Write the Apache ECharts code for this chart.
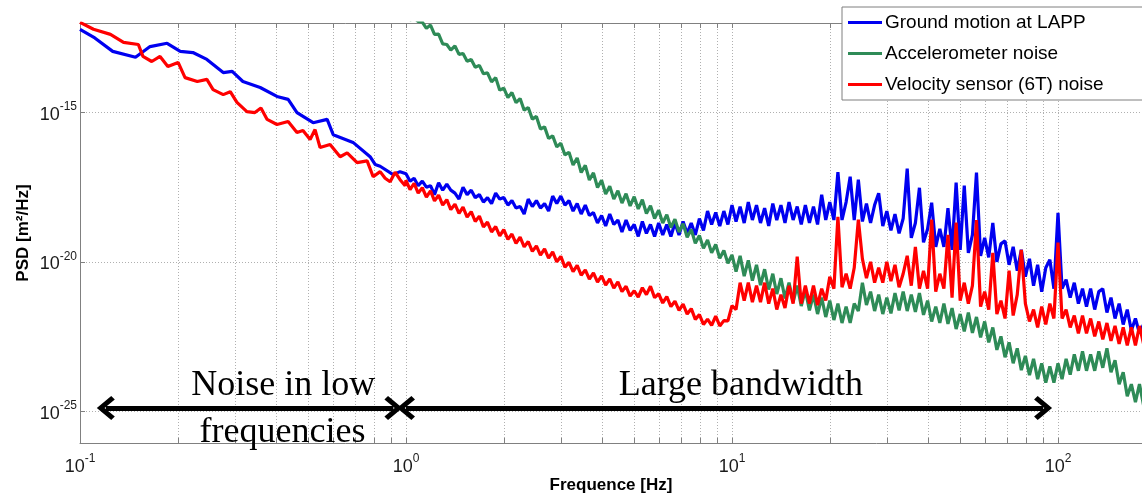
<!DOCTYPE html>
<html>
<head>
<meta charset="utf-8">
<script src="https://cdn.jsdelivr.net/npm/echarts@6/dist/echarts.min.js"></script>
<style>
  html, body { margin: 0; padding: 0; background: #fff; }
  #chart { width: 1142px; height: 495px; }
</style>
</head>
<body>
<div id="chart"></div>
<script>
// PSD, stored as log10 of m^2/Hz

// below 1 Hz
const groundLowFreq = [0.1, 0.111, 0.126, 0.148, 0.164, 0.185, 0.203, 0.222, 0.245, 0.275, 0.293, 0.316, 0.357, 0.402, 0.435, 0.463, 0.519, 0.573, 0.598, 0.688, 0.776, 0.804, 0.833, 0.913, 0.959];
const groundLowLog = [-12.21, -12.5, -12.95, -13.15, -12.79, -12.68, -12.95, -12.99, -13.22, -13.66, -13.62, -13.96, -14.16, -14.46, -14.56, -15.0, -15.34, -15.23, -15.74, -16.0, -16.48, -16.74, -16.8, -17.08, -16.98];

const velocityLowFreq = [0.1, 0.11, 0.124, 0.136, 0.151, 0.156, 0.166, 0.176, 0.186, 0.2,
  0.21, 0.229, 0.245, 0.256, 0.275, 0.289, 0.303, 0.325, 0.344, 0.359,
  0.375, 0.402, 0.435, 0.463, 0.483, 0.508, 0.526, 0.545, 0.585, 0.628,
  0.66, 0.708, 0.76, 0.793, 0.833, 0.863, 0.894, 0.926, 0.959, 0.994];
const velocityLowLog = [-11.98, -12.21, -12.38, -12.65, -12.72, -13.12, -13.29, -13.12, -13.46, -13.32,
  -13.83, -13.96, -13.89, -14.23, -14.4, -14.3, -14.66, -14.97, -15.0, -14.85,
  -15.23, -15.4, -15.3, -15.67, -15.6, -15.9, -15.57, -16.17, -16.07, -16.48,
  -16.35, -16.68, -16.62, -17.15, -16.98, -17.2, -17.32, -17.0, -17.25, -17.45];

// 1 Hz and above (noisy part, shared frequency grid)
const bandFreq = [1, 1.029, 1.059, 1.09, 1.122, 1.155, 1.189, 1.223, 1.259, 1.296, 1.334, 1.372, 1.413, 1.454, 1.496, 1.54, 1.585, 1.631, 1.679, 1.728,
  1.778, 1.83, 1.884, 1.939, 1.995, 2.054, 2.113, 2.175, 2.239, 2.304, 2.371, 2.441, 2.512, 2.585, 2.661, 2.738, 2.818, 2.901, 2.985, 3.073,
  3.162, 3.255, 3.35, 3.447, 3.548, 3.652, 3.758, 3.868, 3.981, 4.097, 4.217, 4.34, 4.467, 4.597, 4.732, 4.87, 5.012, 5.158, 5.309, 5.464,
  5.623, 5.788, 5.957, 6.131, 6.31, 6.494, 6.683, 6.879, 7.079, 7.286, 7.499, 7.718, 7.943, 8.175, 8.414, 8.66, 8.913, 9.173, 9.441, 9.716,
  10, 10.29, 10.59, 10.9, 11.22, 11.55, 11.89, 12.23, 12.59, 12.96, 13.34, 13.72, 14.13, 14.54, 14.96, 15.4, 15.85, 16.31, 16.79, 17.28,
  17.78, 18.3, 18.84, 19.39, 19.95, 20.54, 21.13, 21.75, 22.39, 23.04, 23.71, 24.41, 25.12, 25.85, 26.61, 27.38, 28.18, 29.01, 29.85, 30.73,
  31.62, 32.55, 33.5, 34.47, 35.48, 36.52, 37.58, 38.68, 39.81, 40.97, 42.17, 43.4, 44.67, 45.97, 47.32, 48.7, 50.12, 51.58, 53.09, 54.64,
  56.23, 57.88, 59.57, 61.31, 63.1, 64.94, 66.83, 68.79, 70.79, 72.86, 74.99, 77.18, 79.43, 81.75, 84.14, 86.6, 89.13, 91.73, 94.41, 97.16,
  100, 102.9, 105.9, 109, 112.2, 115.5, 118.9, 122.3, 125.9, 129.6, 133.4, 137.2, 141.3, 145.4, 149.6, 154, 158.5, 163.1, 167.9, 172.8,
  177.8, 183];

const groundBandLog = [-17.05, -17.3, -17.2, -17.45, -17.3, -17.5, -17.45, -17.75, -17.35, -17.6,
  -17.4, -17.6, -17.7, -17.9, -17.5, -17.75, -17.6, -17.85, -17.75, -18.0,
  -17.85, -18.05, -17.7, -17.9, -17.85, -18.1, -17.95, -18.2, -18.15, -18.4,
  -17.9, -18.15, -17.95, -18.2, -18.05, -18.3, -17.8, -18.05, -17.8, -18.1,
  -17.95, -18.3, -18.05, -18.4, -18.1, -18.45, -18.35, -18.7, -18.45, -18.8,
  -18.4, -18.75, -18.6, -19.0, -18.6, -18.95, -18.75, -19.15, -18.65, -19.05,
  -18.75, -19.15, -18.7, -19.1, -18.75, -19.15, -18.7, -19.1, -18.65, -19.05,
  -18.7, -19.1, -18.55, -18.95, -18.3, -18.75, -18.35, -18.8, -18.3, -18.75,
  -18.1, -18.65, -18.15, -18.7, -18.0, -18.6, -18.1, -18.7, -18.2, -18.8,
  -18.05, -18.6, -18.1, -18.7, -18.0, -18.6, -18.15, -18.75, -18.1, -18.7,
  -18.15, -18.75, -17.75, -18.6, -18.0, -18.6, -17.0, -18.6, -18.0, -17.15,
  -18.6, -17.25, -18.65, -18.05, -18.7, -18.1, -17.7, -18.8, -18.3, -18.95,
  -18.4, -19.05, -18.55, -16.88, -19.2, -18.7, -17.52, -19.35, -18.9, -18.02,
  -19.5, -18.9, -19.5, -18.2, -19.6, -17.35, -19.6, -17.45, -19.7, -19.1,
  -17.01, -19.8, -19.2, -19.85, -18.7, -20.0, -19.4, -19.3, -20.1, -19.5,
  -20.3, -19.6, -20.5, -19.9, -20.8, -20.1, -21.0, -20.2, -19.93, -20.9,
  -18.36, -20.9, -20.6, -21.2, -20.7, -21.4, -20.9, -21.5, -20.9, -21.6,
  -21.0, -20.9, -21.7, -21.2, -21.9, -21.4, -22.1, -21.6, -22.3, -21.9,
  -22.4, -22.1];

const accelBandLog = [-11.67, -11.9, -11.82, -11.95, -11.97, -12.18, -12.07, -12.38, -12.37, -12.7,
  -12.72, -12.91, -12.77, -13.05, -13.02, -13.28, -13.22, -13.48, -13.42, -13.7,
  -13.67, -13.97, -13.83, -14.25, -14.18, -14.5, -14.33, -14.67, -14.53, -14.92,
  -14.83, -15.22, -15.13, -15.55, -15.48, -15.87, -15.78, -16.15, -16.03, -16.42,
  -16.33, -16.76, -16.52, -17.01, -16.77, -17.26, -17.02, -17.51, -17.27, -17.73,
  -17.47, -17.9, -17.62, -18.03, -17.72, -18.13, -17.82, -18.23, -17.92, -18.38,
  -18.12, -18.55, -18.27, -18.7, -18.42, -18.85, -18.57, -19.0, -18.72, -19.18,
  -18.92, -19.38, -19.12, -19.55, -19.27, -19.7, -19.42, -19.88, -19.62, -20.05,
  -19.77, -20.33, -19.8, -20.48, -19.95, -20.63, -20.1, -20.78, -20.25, -20.93,
  -20.4, -21.08, -20.55, -21.23, -20.7, -21.35, -20.8, -21.48, -20.95, -21.63,
  -21.1, -21.75, -21.2, -21.85, -21.3, -21.95, -21.4, -22.05, -21.5, -22.05,
  -21.4, -21.65, -20.7, -21.45, -21.0, -21.65, -21.1, -21.75, -21.2, -21.73,
  -21.05, -21.63, -21.0, -21.65, -21.1, -21.68, -21.05, -21.78, -21.3, -22.0,
  -21.5, -22.05, -21.4, -22.08, -21.55, -22.25, -21.75, -22.33, -21.7, -22.38,
  -21.85, -22.53, -22.0, -22.7, -22.2, -22.95, -22.5, -23.2, -22.7, -23.4,
  -22.9, -23.63, -23.15, -23.8, -23.25, -23.93, -23.4, -24.05, -23.5, -24.05,
  -23.4, -23.93, -23.25, -23.78, -23.1, -23.65, -23.0, -23.65, -23.1, -23.65,
  -23.0, -23.55, -22.9, -23.7, -23.3, -24.1, -23.7, -24.5, -24.1, -24.7,
  -24.1, -24.8];

const velocityBandLog = [-17.27, -17.58, -17.37, -17.7, -17.52, -17.83, -17.62, -17.96, -17.77, -18.1,
  -17.92, -18.25, -18.07, -18.38, -18.17, -18.5, -18.32, -18.65, -18.47, -18.83,
  -18.67, -19.0, -18.82, -19.13, -18.92, -19.25, -19.07, -19.38, -19.17, -19.5,
  -19.32, -19.65, -19.47, -19.78, -19.57, -19.88, -19.67, -20.0, -19.82, -20.18,
  -20.02, -20.33, -20.12, -20.45, -20.27, -20.58, -20.37, -20.68, -20.47, -20.78,
  -20.57, -20.88, -20.67, -21.0, -20.82, -21.15, -20.97, -21.18, -20.87, -21.1,
  -20.82, -21.2, -21.07, -21.38, -21.17, -21.5, -21.32, -21.63, -21.42, -21.75,
  -21.57, -21.93, -21.77, -22.1, -21.92, -22.13, -21.82, -22.15, -21.97, -21.98,
  -21.47, -21.6, -20.7, -21.3, -20.7, -21.35, -20.8, -21.35, -20.7, -21.4,
  -20.9, -21.6, -21.1, -21.55, -20.8, -21.4, -19.83, -21.4, -20.8, -21.4,
  -20.8, -21.45, -20.9, -21.3, -20.5, -20.9, -18.49, -20.85, -20.4, -20.9,
  -20.2, -18.59, -19.9, -20.55, -20.0, -20.7, -20.2, -20.7, -20.0, -20.65,
  -20.1, -20.85, -20.4, -19.8, -20.8, -19.5, -20.9, -20.3, -20.9, -18.59,
  -21.0, -20.4, -20.9, -19.1, -21.2, -18.69, -21.3, -20.7, -21.4, -20.8,
  -18.6, -21.5, -21.0, -21.6, -19.7, -21.75, -21.3, -21.9, -20.3, -21.8,
  -21.1, -19.6, -21.4, -22.0, -21.6, -22.2, -21.5, -22.1, -21.4, -21.9,
  -19.36, -21.9, -21.6, -22.2, -21.8, -22.4, -21.8, -22.4, -21.9, -22.5,
  -22.0, -22.6, -22.05, -22.65, -22.15, -22.75, -22.2, -22.8, -22.2, -22.8,
  -22.15, -22.75];

const seriesNames = ['Ground motion at LAPP', 'Accelerometer noise', 'Velocity sensor (6T) noise'];
const seriesColors = ['#0000f0', '#2e8b57', '#ff0000'];

// axes
const freqTicks = [0.1, 0.2, 0.3, 0.4, 0.5, 0.6, 0.7, 0.8, 0.9, 1, 2, 3, 4, 5, 6, 7, 8, 9, 10, 20, 30, 40, 50, 60, 70, 80, 90, 100];
const freqLabels = [0.1, 1, 10, 100];
const psdTicks = [1e-25, 1e-20, 1e-15];

// annotations
const arrowLevel = 1.26e-25;
const lowBand = [0.12, 0.915];
const wideBand = [1.0, 90];
const notes = [
  { name: 'Noise in low', coord: [0.42, 7.0e-25] },
  { name: 'frequencies', coord: [0.418, 1.9e-26] },
  { name: 'Large bandwidth', coord: [10.65, 7.0e-25] }
];

const chevron = 'path://M12,0 L24,14 L20.5,17.5 L12,7.5 L3.5,17.5 L0,14 Z';
const legendLine = 'path://M0,0 L34,0 L34,3 L0,3 Z';

function toPairs(freq, logPsd) {
  return freq.map((f, i) => [f, Math.pow(10, logPsd[i])]);
}

function pow10Label(v) {
  const e = Math.round(Math.log10(v));
  return '{b|10}{s|' + e + '}';
}

const labelRich = {
  b: { fontSize: 18, fontFamily: 'Liberation Sans', color: '#1a1a1a', verticalAlign: 'bottom' },
  s: { fontSize: 12, fontFamily: 'Liberation Sans', color: '#1a1a1a', verticalAlign: 'bottom', padding: [0, 0, 11, 0] }
};

const chart = echarts.init(document.getElementById('chart'));

const lineSeries = [
  toPairs(groundLowFreq.concat(bandFreq), groundLowLog.concat(groundBandLog)),
  toPairs(bandFreq, accelBandLog),
  toPairs(velocityLowFreq.concat(bandFreq), velocityLowLog.concat(velocityBandLog))
].map((data, i) => ({
  name: seriesNames[i],
  type: 'line',
  data: data,
  symbol: 'none',
  showSymbol: false,
  clip: true,
  lineStyle: { color: seriesColors[i], width: 3.2 },
  itemStyle: { color: seriesColors[i] },
  z: 2 + i
}));

chart.setOption({
  animation: false,
  backgroundColor: '#fff',
  grid: { left: 80, right: 0, top: 23, bottom: 52, containLabel: false, outerBoundsMode: 'none' },
  legend: {
    data: seriesNames.map(n => ({ name: n, icon: legendLine })),
    orient: 'vertical',
    left: 842,
    top: 7,
    padding: [6, 60, 6, 6],
    itemGap: 12,
    itemWidth: 34,
    itemHeight: 3,
    backgroundColor: '#fff',
    borderColor: '#7f7f7f',
    borderWidth: 1,
    textStyle: { fontFamily: 'Liberation Sans', fontSize: 19, color: '#000', padding: [0, 0, 0, -2] }
  },
  xAxis: [{
    type: 'log',
    min: 0.1,
    max: 181,
    name: 'Frequence [Hz]',
    nameLocation: 'middle',
    nameGap: 34,
    nameMoveOverlap: false,
    nameTextStyle: { fontFamily: 'Liberation Sans', fontWeight: 'bold', fontSize: 17, color: '#000' },
    axisLine: { show: true, lineStyle: { color: '#808080', width: 1 } },
    axisTick: { show: true, inside: true, length: 5, customValues: freqTicks, lineStyle: { color: '#808080' } },
    axisLabel: { customValues: freqLabels, formatter: pow10Label, rich: labelRich, margin: 10 },
    splitLine: { show: true, lineStyle: { color: '#b0b0b0', type: [1, 2], width: 1 } }
  }, {
    type: 'log',
    position: 'top',
    min: 0.1,
    max: 181,
    axisLine: { show: true, lineStyle: { color: '#808080', width: 1 } },
    axisTick: { show: true, inside: true, length: 5, customValues: freqTicks, lineStyle: { color: '#808080' } },
    axisLabel: { show: false },
    splitLine: { show: false }
  }],
  yAxis: {
    type: 'log',
    min: 8.5e-27,
    max: 1e-12,
    name: 'PSD [m\u00b2/Hz]',
    nameLocation: 'middle',
    nameGap: 48,
    nameMoveOverlap: false,
    nameTextStyle: { fontFamily: 'Liberation Sans', fontWeight: 'bold', fontSize: 17, color: '#000' },
    axisLine: { show: true, lineStyle: { color: '#808080', width: 1 } },
    axisTick: { show: true, inside: true, length: 5, customValues: psdTicks, lineStyle: { color: '#808080' } },
    axisLabel: { customValues: psdTicks, formatter: pow10Label, rich: labelRich, margin: 3 },
    splitLine: { show: true, lineStyle: { color: '#b0b0b0', type: [1, 2], width: 1 } }
  },
  series: lineSeries.concat([{
    name: 'annotations',
    type: 'line',
    data: [],
    z: 10,
    markLine: {
      silent: true,
      animation: false,
      symbol: [chevron, chevron],
      symbolSize: [24, 18],
      label: { show: false },
      lineStyle: { color: '#000', width: 5, type: 'solid' },
      emphasis: { disabled: true },
      data: [
        [{ coord: [lowBand[0], arrowLevel] }, { coord: [lowBand[1], arrowLevel] }],
        [{ coord: [wideBand[0], arrowLevel] }, { coord: [wideBand[1], arrowLevel] }]
      ]
    },
    markPoint: {
      silent: true,
      animation: false,
      symbol: 'circle',
      symbolSize: 1,
      itemStyle: { color: 'rgba(0,0,0,0)' },
      label: {
        show: true,
        position: 'inside',
        formatter: p => p.name,
        fontFamily: 'Liberation Serif',
        fontSize: 36,
        color: '#000'
      },
      data: notes
    }
  }])
});
</script>
</body>
</html>
